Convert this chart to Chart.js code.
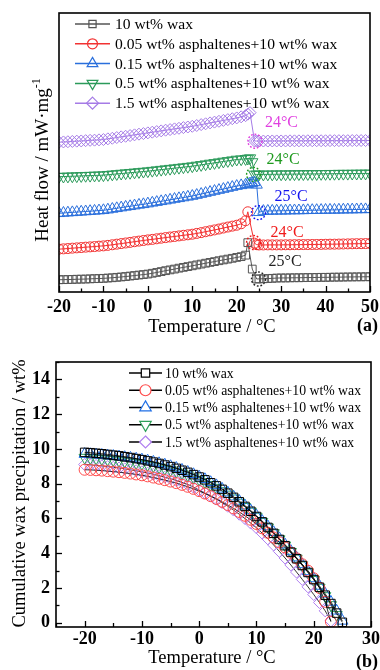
<!DOCTYPE html>
<html><head><meta charset="utf-8">
<script src="https://cdn.jsdelivr.net/npm/chart.js@4.4.1/dist/chart.umd.min.js"></script>
<style>
html,body{margin:0;padding:0;background:#fff;}
.wrap{position:relative;width:380px;height:335px;}
canvas{display:block;}
</style></head><body>
<div class="wrap"><canvas id="c1" width="380" height="335"></canvas></div>
<div class="wrap"><canvas id="c2" width="380" height="335"></canvas></div>
<script>
// ---------- DATA ----------
const seriesNames = ['10 wt% wax','0.05 wt% asphaltenes+10 wt% wax','0.15 wt% asphaltenes+10 wt% wax','0.5 wt% asphaltenes+10 wt% wax','1.5 wt% asphaltenes+10 wt% wax'];

// (a) DSC heat flow (arbitrary offset units)
const heatTemps = [-20,-19,-18,-17,-16,-15,-14,-13,-12,-11,-10,-9,-8,-7,-6,-5,-4,-3,-2,-1,0,1,2,3,4,5,6,7,8,9,10,11,12,13,14,15,16,17,18,19,20,21,22,22.5,23,23.5,24,24.5,25,26,27,28,29,30,31,32,33,34,35,36,37,38,39,40,41,42,43,44,45,46,47,48,49,50];
const heatWax = [1.23,1.24,1.25,1.26,1.28,1.29,1.30,1.32,1.34,1.35,1.37,1.40,1.43,1.47,1.51,1.55,1.60,1.65,1.70,1.75,1.80,1.88,1.96,2.05,2.14,2.22,2.30,2.39,2.47,2.55,2.63,2.72,2.80,2.89,2.97,3.05,3.14,3.22,3.30,3.38,3.47,3.55,3.70,4.95,null,2.30,null,1.30,1.32,1.33,1.35,1.37,1.40,1.41,1.41,1.42,1.43,1.43,1.44,1.45,1.45,1.46,1.47,1.47,1.48,1.49,1.49,1.50,1.51,1.51,1.52,1.52,1.53,1.53];
const heatA005 = [4.30,4.33,4.36,4.40,4.43,4.46,4.50,4.53,4.56,4.60,4.63,4.68,4.74,4.80,4.86,4.92,4.98,5.05,5.11,5.17,5.23,5.28,5.34,5.40,5.46,5.52,5.57,5.63,5.69,5.74,5.80,5.88,5.96,6.05,6.14,6.23,6.32,6.42,6.52,6.61,6.70,6.85,7.15,8.05,null,null,4.90,4.75,4.72,4.72,4.73,4.73,4.73,4.73,4.74,4.74,4.75,4.75,4.76,4.76,4.77,4.77,4.78,4.79,4.80,4.80,4.81,4.82,4.83,4.84,4.85,4.85,4.86,4.87];
const heatA015 = [7.90,7.93,7.96,7.99,8.02,8.05,8.08,8.11,8.14,8.17,8.20,8.26,8.33,8.40,8.47,8.54,8.60,8.67,8.74,8.80,8.87,8.95,9.02,9.10,9.17,9.25,9.33,9.40,9.48,9.55,9.63,9.73,9.83,9.93,10.03,10.13,10.23,10.33,10.43,10.53,10.63,10.70,10.76,10.82,10.88,10.94,11.00,10.75,8.00,8.12,8.13,8.14,8.15,8.15,8.16,8.17,8.18,8.18,8.19,8.20,8.21,8.21,8.22,8.23,8.24,8.24,8.25,8.26,8.27,8.27,8.28,8.29,8.29,8.30];
const heatA05 = [11.57,11.59,11.60,11.62,11.63,11.65,11.67,11.68,11.70,11.71,11.73,11.77,11.81,11.85,11.89,11.93,11.97,12.01,12.05,12.09,12.13,12.18,12.23,12.28,12.33,12.38,12.43,12.48,12.53,12.58,12.63,12.70,12.76,12.83,12.90,12.96,13.03,13.10,13.16,13.23,13.30,13.33,13.36,13.40,13.44,13.05,11.80,11.80,11.80,11.80,11.81,11.81,11.82,11.82,11.82,11.83,11.83,11.84,11.84,11.85,11.85,11.85,11.86,11.86,11.87,11.87,11.88,11.88,11.88,11.89,11.89,11.90,11.90,11.90];
const heatA15 = [15.03,15.06,15.08,15.11,15.14,15.16,15.19,15.22,15.24,15.27,15.30,15.37,15.43,15.50,15.57,15.63,15.70,15.77,15.84,15.90,15.97,16.04,16.10,16.17,16.24,16.30,16.37,16.43,16.50,16.56,16.63,16.71,16.80,16.88,16.97,17.05,17.13,17.22,17.30,17.39,17.47,17.58,17.70,17.85,18.00,null,15.15,15.15,15.15,15.15,15.15,15.16,15.16,15.16,15.16,15.17,15.17,15.17,15.17,15.18,15.18,15.18,15.18,15.18,15.19,15.19,15.19,15.19,15.19,15.20,15.20,15.20,15.20,15.20];

// WAT annotations (a)
const watTemps = [24.9, 23.8, 24.9, 23.8, 24.1];
const watFlows = [1.30, 4.97, 7.97, 11.80, 15.13];
const watLabels = ['25°C','24°C','25°C','24°C','24°C'];

// (b) cumulative wax precipitation, wt%
const precTemps = [-20,-19,-18,-17,-16,-15,-14,-13,-12,-11,-10,-9,-8,-7,-6,-5,-4,-3,-2,-1,0,1,2,3,4,5,6,7,8,9,10,11,12,13,14,15,16,17,18,19,20,21,22,23,24,25];
const precWax = [9.80,9.78,9.75,9.72,9.68,9.64,9.60,9.55,9.50,9.44,9.38,9.31,9.24,9.16,9.07,8.98,8.88,8.77,8.65,8.52,8.38,8.22,8.05,7.87,7.67,7.45,7.21,6.96,6.69,6.41,6.11,5.80,5.48,5.14,4.79,4.43,4.06,3.68,3.29,2.89,2.48,2.04,1.58,1.10,0.55,0.02];
const precA005 = [8.80,8.79,8.77,8.75,8.72,8.69,8.66,8.62,8.58,8.53,8.48,8.42,8.35,8.28,8.20,8.12,8.03,7.93,7.82,7.70,7.57,7.43,7.28,7.12,6.95,6.77,6.58,6.37,6.15,5.92,5.68,5.43,5.17,4.90,4.62,4.33,4.02,3.70,3.36,2.99,2.55,2.00,1.20,0.05,null,null];
const precA015 = [9.70,9.69,9.67,9.65,9.62,9.59,9.56,9.52,9.48,9.43,9.38,9.32,9.25,9.17,9.09,9.00,8.90,8.79,8.67,8.54,8.40,8.25,8.08,7.90,7.70,7.48,7.25,7.00,6.73,6.45,6.16,5.85,5.53,5.20,4.85,4.49,4.12,3.74,3.35,2.95,2.54,2.11,1.66,1.19,0.68,0.10];
const precA05 = [9.50,9.48,9.46,9.43,9.40,9.37,9.33,9.29,9.25,9.20,9.15,9.09,9.02,8.95,8.87,8.79,8.70,8.60,8.49,8.37,8.24,8.10,7.94,7.77,7.58,7.38,7.16,6.92,6.67,6.40,6.11,5.81,5.49,5.16,4.81,4.45,4.08,3.70,3.31,2.90,2.47,2.02,1.54,1.02,0.45,null];
const precA15 = [9.10,9.08,9.05,9.02,8.98,8.94,8.90,8.85,8.80,8.74,8.68,8.61,8.54,8.46,8.37,8.28,8.18,8.07,7.95,7.80,7.62,7.46,7.29,7.11,6.91,6.70,6.48,6.24,5.99,5.73,5.46,5.15,4.82,4.47,4.10,3.72,3.32,2.91,2.49,2.06,1.62,1.16,0.68,0.10,null,null];

// ---------- STYLE ----------
const FAM = '"Liberation Serif","Times New Roman",serif';
Chart.defaults.font.family = FAM;
Chart.defaults.color = '#000';

const colA = ['#555555','#f23232','#2a6fdc','#2b9a5a','#a57be6'];
const watCol = ['#222222','#f01a1a','#1414f0','#1f9a1f','#e040e0'];
const colB = ['#000000','#ff4a4a','#1f6fe6','#2ea05a','#b080f0'];
const styles = [
  {ps:'rect', rot:0, leg:'rect'},
  {ps:'circle', rot:0, leg:'circle'},
  {ps:'triangle', rot:0, leg:'tri'},
  {ps:'triangle', rot:180, leg:'triDown'},
  {ps:'rectRot', rot:0, leg:'diamond'}
];
const radA = [5.5, 5, 6.5, 6.5, 6];
const radB = [6, 5.5, 6.5, 6.5, 6];

function zip(xs, ys){ return xs.map((x,i)=>({x:x, y:ys[i]})); }

function drawMarker(ctx, kind, x, y, r, stroke, fill){
  ctx.beginPath();
  if (kind==='rect') ctx.rect(x-r, y-r, 2*r, 2*r);
  else if (kind==='circle') ctx.arc(x, y, r, 0, Math.PI*2);
  else if (kind==='tri'){ ctx.moveTo(x, y-r); ctx.lineTo(x+r*0.866, y+r*0.5); ctx.lineTo(x-r*0.866, y+r*0.5); ctx.closePath(); }
  else if (kind==='triDown'){ ctx.moveTo(x, y+r); ctx.lineTo(x+r*0.866, y-r*0.5); ctx.lineTo(x-r*0.866, y-r*0.5); ctx.closePath(); }
  else if (kind==='diamond'){ ctx.moveTo(x, y-r); ctx.lineTo(x+r, y); ctx.lineTo(x, y+r); ctx.lineTo(x-r, y); ctx.closePath(); }
  if (fill){ ctx.fillStyle = fill; ctx.fill(); }
  ctx.strokeStyle = stroke; ctx.lineWidth = 1.2; ctx.stroke();
}

function drawFrame(chart){
  const {ctx, chartArea:a} = chart;
  ctx.save();
  ctx.strokeStyle = '#000'; ctx.lineWidth = 1.6;
  ctx.strokeRect(a.left, a.top, a.right-a.left, a.bottom-a.top);
  ctx.restore();
}
function xTicks(chart, major, minor, lenMaj, lenMin){
  const {ctx, chartArea:a} = chart; const s = chart.scales.x;
  ctx.save(); ctx.strokeStyle='#000'; ctx.lineWidth=1.3;
  for (let v = Math.ceil(s.min/minor)*minor; v <= s.max; v += minor){
    const px = Math.round(s.getPixelForValue(v))+0.5;
    const isMaj = Math.abs(v/major - Math.round(v/major)) < 1e-6;
    const L = isMaj ? lenMaj : lenMin;
    ctx.beginPath(); ctx.moveTo(px, a.bottom); ctx.lineTo(px, a.bottom - L); ctx.stroke();
  }
  ctx.restore();
}
function yTicks(chart, major, minor, lenMaj, lenMin){
  const {ctx, chartArea:a} = chart; const s = chart.scales.y;
  ctx.save(); ctx.strokeStyle='#000'; ctx.lineWidth=1.3;
  for (let v = Math.ceil(s.min/minor)*minor; v <= s.max; v += minor){
    const py = Math.round(s.getPixelForValue(v))+0.5;
    const isMaj = Math.abs(v/major - Math.round(v/major)) < 1e-6;
    const L = isMaj ? lenMaj : lenMin;
    ctx.beginPath(); ctx.moveTo(a.left, py); ctx.lineTo(a.left + L, py); ctx.stroke();
  }
  ctx.restore();
}

// ---------- CHART (a) ----------
const decorA = {
  id:'decorA',
  afterDraw(chart){
    const ctx = chart.ctx; const xs = chart.scales.x, ys = chart.scales.y;
    drawFrame(chart);
    xTicks(chart, 10, 5, 6, 3.5);
    const offs = [[10,-17],[17,-10],[16,-16],[13,-15],[10,-18]];
    ctx.save();
    watTemps.forEach((t,i)=>{
      const cx = xs.getPixelForValue(t), cy = ys.getPixelForValue(watFlows[i]);
      ctx.setLineDash([1.8,1.8]); ctx.lineWidth = 1.4; ctx.strokeStyle = watCol[i];
      ctx.beginPath(); ctx.arc(cx, cy, 7, 0, Math.PI*2); ctx.stroke();
      ctx.setLineDash([]);
      ctx.fillStyle = watCol[i]; ctx.font = '16px '+FAM; ctx.textAlign='left'; ctx.textBaseline='middle';
      ctx.fillText(watLabels[i], cx + offs[i][0], cy + offs[i][1]);
    });
    ctx.restore();
    ctx.save();
    seriesNames.forEach((n,i)=>{
      const y = 24 + i*19.8;
      ctx.strokeStyle = colA[i]; ctx.lineWidth = 1.5;
      ctx.beginPath(); ctx.moveTo(75, y); ctx.lineTo(110, y); ctx.stroke();
      const lr = [3.6,5,6.2,6.2,6][i];
      drawMarker(ctx, styles[i].leg, 92.5, y, lr, colA[i], null);
      ctx.fillStyle = '#000'; ctx.font = '15.6px '+FAM; ctx.textAlign='left'; ctx.textBaseline='middle';
      ctx.fillText(n, 115, y+1);
    });
    ctx.restore();
    ctx.save();
    ctx.fillStyle='#000'; ctx.textAlign='center'; ctx.textBaseline='alphabetic';
    ctx.font = '18.5px '+FAM; ctx.fillText('Temperature / °C', 212, 332);
    ctx.font = 'bold 18px '+FAM; ctx.textAlign='right'; ctx.fillText('(a)', 378, 331);
    ctx.translate(48, 160); ctx.rotate(-Math.PI/2);
    const main = 'Heat flow / mW·mg', sup = '-1';
    ctx.font = '19px '+FAM; const w1 = ctx.measureText(main).width;
    ctx.font = '12px '+FAM; const w2 = ctx.measureText(sup).width;
    const st = -(w1+w2)/2;
    ctx.textAlign='left';
    ctx.font = '19px '+FAM; ctx.fillText(main, st, 0);
    ctx.font = '12px '+FAM; ctx.fillText(sup, st + w1, -8);
    ctx.restore();
  }
};

const heatSets = [heatWax, heatA005, heatA015, heatA05, heatA15];
new Chart(document.getElementById('c1'), {
  type:'line',
  data:{ datasets: heatSets.map((v,i)=>({
    label: seriesNames[i], data: zip(heatTemps, v), spanGaps:true,
    borderColor: colA[i], borderWidth: 1, tension: 0,
    pointStyle: styles[i].ps, rotation: styles[i].rot, pointRotation: styles[i].rot,
    pointRadius: radA[i], pointBorderColor: colA[i], pointBackgroundColor:'rgba(0,0,0,0)', pointBorderWidth: 1,
    clip: 0
  }))},
  options:{
    responsive:false, animation:false, devicePixelRatio:1,
    layout:{padding:{top:13, right:10, left:0, bottom:0}},
    plugins:{legend:{display:false}, tooltip:{enabled:false}},
    scales:{
      x:{type:'linear', min:-20, max:50,
        grid:{display:false, drawTicks:false}, border:{display:false},
        ticks:{stepSize:10, includeBounds:false, padding:5, color:'#000', font:{size:18, weight:'bold', family:FAM}},
        afterFit(s){ s.height = 43; s.paddingLeft = 0; s.paddingRight = 0; }},
      y:{type:'linear', min:0, max:28,
        grid:{display:false, drawTicks:false}, border:{display:false},
        ticks:{display:false},
        afterFit(s){ s.width = 59; s.paddingTop = 0; s.paddingBottom = 0; }}
    }
  },
  plugins:[decorA]
});

// ---------- CHART (b) ----------
const decorB = {
  id:'decorB',
  afterDraw(chart){
    const ctx = chart.ctx;
    drawFrame(chart);
    xTicks(chart, 10, 5, 6, 4);
    yTicks(chart, 2, 1, 6, 3.5);
    ctx.save();
    seriesNames.forEach((n,i)=>{
      const y = 38 + i*17.25;
      ctx.strokeStyle = '#000'; ctx.lineWidth = 1.5;
      ctx.beginPath(); ctx.moveTo(129, y); ctx.lineTo(162, y); ctx.stroke();
      const lr = [4.2,5.5,6.6,6.6,6][i];
      drawMarker(ctx, styles[i].leg, 145.5, y, lr, colB[i], '#fff');
      ctx.fillStyle = '#000'; ctx.font = '13.75px '+FAM; ctx.textAlign='left'; ctx.textBaseline='middle';
      ctx.fillText(n, 165, y+1);
    });
    ctx.restore();
    ctx.save();
    ctx.fillStyle='#000'; ctx.textAlign='center'; ctx.textBaseline='alphabetic';
    ctx.font = '18.5px '+FAM; ctx.fillText('Temperature / °C', 212, 327.5);
    ctx.font = 'bold 18px '+FAM; ctx.textAlign='right'; ctx.fillText('(b)', 378, 332);
    ctx.translate(25, 158.5); ctx.rotate(-Math.PI/2);
    ctx.textAlign='center'; ctx.font = '18.5px '+FAM;
    ctx.fillText('Cumulative wax precipitation / wt%', 0, 0);
    ctx.restore();
  }
};

const precSets = [precWax, precA005, precA015, precA05, precA15];
new Chart(document.getElementById('c2'), {
  type:'line',
  data:{ datasets: precSets.map((v,i)=>({
    label: seriesNames[i], data: zip(precTemps, v), spanGaps:false,
    borderColor: '#000', borderWidth: 0.8, tension: 0,
    pointStyle: styles[i].ps, rotation: styles[i].rot, pointRotation: styles[i].rot,
    pointRadius: radB[i], pointBorderColor: colB[i], pointBackgroundColor:'rgba(0,0,0,0)', pointBorderWidth: 1,
    clip: 0
  }))},
  options:{
    responsive:false, animation:false, devicePixelRatio:1,
    layout:{padding:{top:27, right:9, left:0, bottom:0}},
    plugins:{legend:{display:false}, tooltip:{enabled:false}},
    scales:{
      x:{type:'linear', min:-25, max:30,
        grid:{display:false, drawTicks:false}, border:{display:false},
        ticks:{stepSize:10, includeBounds:false, padding:2, color:'#000', font:{size:18, weight:'bold', family:FAM}},
        afterFit(s){ s.height = 43; s.paddingLeft = 0; s.paddingRight = 0; }},
      y:{type:'linear', min:-0.25, max:15,
        grid:{display:false, drawTicks:false}, border:{display:false},
        ticks:{stepSize:2, includeBounds:false, padding:6, color:'#000', font:{size:18, weight:'bold', family:FAM}},
        afterFit(s){ s.width = 56; s.paddingTop = 0; s.paddingBottom = 0; }}
    }
  },
  plugins:[decorB]
});
</script>
</body></html>
